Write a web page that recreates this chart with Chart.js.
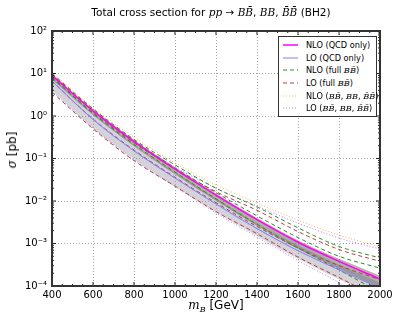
<!DOCTYPE html>
<html>
<head>
<meta charset="utf-8">
<script src="https://cdn.jsdelivr.net/npm/chart.js@4.4.1/dist/chart.umd.min.js"></script>
<style>
  body { margin: 0; background: #fff; }
  #wrap { position: relative; width: 398px; height: 319px; font-family: "DejaVu Sans", sans-serif; color: #000; }
  #chart { position: absolute; left: 0; top: 0; }
  .m { font-family: "DejaVu Serif", serif; font-style: italic; }
  #title { position: absolute; top: 6px; left: 0; width: 422px; text-align: center; font-size: 10.5px; white-space: nowrap; }
  #xlabel { position: absolute; top: 298px; left: 0; width: 432px; text-align: center; font-size: 12px; }
  #ylabel { position: absolute; left: 12px; top: 150px; font-size: 12px; transform: translate(-50%, -50%) rotate(-90deg); white-space: nowrap; }
  #legend { position: absolute; left: 278px; top: 36px; width: 99px; height: 81px; box-sizing: border-box;
            border: 1.5px solid #333; background: #fff; padding-top: 2px; overflow: visible; }
  .row { height: 12.6px; display: flex; align-items: center; font-size: 8.2px; white-space: nowrap; }
  .row svg { margin-left: 4px; margin-right: 8px; flex-shrink: 0; }
  .row span.t { flex-shrink: 0; }
</style>
</head>
<body>
<div id="wrap">
  <canvas id="chart" width="398" height="319"></canvas>
  <div id="title">Total cross section for <span class="m">pp</span> → <span class="m">BB&#772;</span>, <span class="m">BB</span>, <span class="m">B&#772;B&#772;</span> (BH2)</div>
  <div id="xlabel"><span class="m">m<sub style="font-size:8px">B</sub></span> [GeV]</div>
  <div id="ylabel"><span class="m">σ</span> [pb]</div>
  <div id="legend"></div>
</div>
<script>
// masses (GeV) and cross sections (pb)
const mass = [400, 600, 800, 1000, 1200, 1400, 1600, 1800, 2000];

const nloQcd = [8.91, 1.32, 0.251, 0.0562, 0.0138, 0.00363, 0.00107, 0.00038, 0.000145];
const loQcd = [6.61, 0.832, 0.151, 0.0347, 0.00851, 0.00224, 0.000676, 0.00024, 0.0000891];

const nloBandHi = [9.77, 1.45, 0.275, 0.0617, 0.0151, 0.00398, 0.0012, 0.000437, 0.000174];
const nloBandLo = [7.24, 1.05, 0.195, 0.0427, 0.0102, 0.00263, 0.000741, 0.000251, 0.0000891];
const loBandHi = [8.32, 1.15, 0.209, 0.0479, 0.0117, 0.00302, 0.000912, 0.000316, 0.00012];
const loBandLo = [3.98, 0.525, 0.0955, 0.0219, 0.0055, 0.00151, 0.000437, 0.000145, 0.0000501];

const nloFullUp = [10, 1.48, 0.282, 0.0708, 0.02, 0.00724, 0.00234, 0.000851, 0.000457];
const nloFullMid = [9.55, 1.38, 0.263, 0.0603, 0.0158, 0.00447, 0.00138, 0.000501, 0.000263];
const nloFullLo = [7.94, 1.15, 0.214, 0.0479, 0.0112, 0.00282, 0.000794, 0.00024, 0.0000708];

const loFullUp = [8.32, 1.2, 0.234, 0.0575, 0.0166, 0.00603, 0.00191, 0.000724, 0.00038];
const loFullMid = [6.61, 0.851, 0.158, 0.0363, 0.00912, 0.00251, 0.000794, 0.000302, 0.000141];
const loFullLo = [3.63, 0.501, 0.0891, 0.0224, 0.00562, 0.0017, 0.000479, 0.000158, 0.0000501];

const nloAllUp = [10.5, 1.58, 0.316, 0.0794, 0.024, 0.00891, 0.00355, 0.00158, 0.000832];
const nloAllMid = [9.33, 1.38, 0.263, 0.0589, 0.0145, 0.0038, 0.00112, 0.000398, 0.000158];
const nloAllLo = [8.32, 1.2, 0.224, 0.0501, 0.0117, 0.00295, 0.000794, 0.00024, 0.0000631];

const loAllUp = [7.94, 1.17, 0.24, 0.0631, 0.02, 0.00759, 0.00302, 0.00135, 0.000741];
const loAllMid = [6.61, 0.832, 0.151, 0.0347, 0.00851, 0.00224, 0.000676, 0.00024, 0.0000891];
const loAllLo = [3.8, 0.525, 0.0933, 0.0219, 0.00525, 0.00141, 0.000398, 0.00012, 0.0000316];

const xTicks = [400, 600, 800, 1000, 1200, 1400, 1600, 1800, 2000];
const yExponents = [-4, -3, -2, -1, 0, 1, 2];

const C_NLO = "#ff00ff", C_LO = "#8080ff", C_GREEN = "#2e8b2e", C_RED = "#b84040",
      C_ORANGE = "#ffb347", C_PURPLE = "#b27dff";

const pts = arr => mass.map((m, i) => ({ x: m, y: arr[i] }));
const line = (arr, color, width, dash, order) => ({
    data: pts(arr), borderColor: color, borderWidth: width, borderDash: dash,
    pointRadius: 0, fill: false, cubicInterpolationMode: "monotone", order
});
const band = (arr, color, fillTo, order) => ({
    data: pts(arr), borderWidth: 0, borderColor: "transparent", backgroundColor: color,
    pointRadius: 0, fill: fillTo, cubicInterpolationMode: "monotone", order
});

const datasets = [
    band(loBandHi, "rgba(150,150,165,0.42)", "+1", 20),
    band(loBandLo, "transparent", false, 20),
    band(nloBandHi, "rgba(95,95,95,0.5)", "+1", 19),
    band(nloBandLo, "transparent", false, 19),
    line(nloAllUp, C_ORANGE, 1, [1, 2], 5),
    line(nloAllMid, C_ORANGE, 1, [1, 2], 5),
    line(nloAllLo, C_ORANGE, 1, [1, 2], 5),
    line(loAllUp, C_PURPLE, 1, [1, 2], 5),
    line(loAllMid, C_PURPLE, 1, [1, 2], 5),
    line(loAllLo, C_PURPLE, 1, [1, 2], 5),
    line(nloFullUp, C_GREEN, 1, [4, 3], 4),
    line(nloFullMid, C_GREEN, 1, [4, 3], 4),
    line(nloFullLo, C_GREEN, 1, [4, 3], 4),
    line(loFullUp, C_RED, 1, [4, 3], 4),
    line(loFullMid, C_RED, 1, [4, 3], 4),
    line(loFullLo, C_RED, 1, [4, 3], 4),
    line(loQcd, C_LO, 1, [], 1),
    line(nloQcd, C_NLO, 1.5, [], 0)
];

const sup = { "-": "⁻", "0": "⁰", "1": "¹", "2": "²", "3": "³", "4": "⁴" };

// frame and inward ticks like matplotlib
const framePlugin = {
    id: "frame",
    afterDraw(chart) {
        const { ctx, chartArea: a, scales: { x, y } } = chart;
        ctx.save();
        ctx.strokeStyle = "#222";
        ctx.lineWidth = 1;
        ctx.beginPath();
        for (let m = 400; m <= 2000; m += 50) {
            const px = x.getPixelForValue(m);
            const len = m % 200 === 0 ? 4 : 2;
            ctx.moveTo(px, a.bottom); ctx.lineTo(px, a.bottom - len);
            ctx.moveTo(px, a.top); ctx.lineTo(px, a.top + len);
        }
        for (let e = -4; e <= 2; e++) {
            for (let j = 1; j <= 9; j++) {
                const v = j * Math.pow(10, e);
                if (v > 100) break;
                const py = y.getPixelForValue(v);
                const len = j === 1 ? 4 : 2;
                ctx.moveTo(a.left, py); ctx.lineTo(a.left + len, py);
                ctx.moveTo(a.right, py); ctx.lineTo(a.right - len, py);
            }
        }
        ctx.stroke();
        ctx.strokeStyle = "#333";
        ctx.lineWidth = 2;
        ctx.strokeRect(a.left, a.top, a.right - a.left, a.bottom - a.top);
        ctx.restore();
    }
};

new Chart(document.getElementById("chart"), {
    type: "line",
    data: { datasets },
    options: {
        responsive: false,
        animation: false,
        layout: { padding: { left: 0, top: 31, right: 18, bottom: 0 } },
        plugins: { legend: { display: false }, tooltip: { enabled: false } },
        scales: {
            x: {
                type: "linear", min: 400, max: 2000,
                afterBuildTicks: s => { s.ticks = xTicks.map(v => ({ value: v })); },
                afterFit: s => { s.height = 33; },
                ticks: { color: "#000", font: { family: "DejaVu Sans", size: 10 }, padding: 3, maxRotation: 0,
                         callback: v => String(v) },
                grid: { color: "rgba(0,0,0,0.45)", lineWidth: 0.8, drawTicks: false },
                border: { display: false, dash: [1, 2] }
            },
            y: {
                type: "logarithmic", min: 1e-4, max: 100,
                afterBuildTicks: s => { s.ticks = yExponents.map(e => ({ value: Math.pow(10, e) })); },
                afterFit: s => { s.width = 52; },
                ticks: {
                    color: "#000", font: { family: "DejaVu Sans", size: 10 }, padding: 5,
                    callback: v => "10" + String(Math.round(Math.log10(v))).split("").map(c => sup[c]).join("")
                },
                grid: { color: "rgba(0,0,0,0.45)", lineWidth: 0.8, drawTicks: false },
                border: { display: false, dash: [1, 2] }
            }
        }
    },
    plugins: [framePlugin]
});

// legend
const legendItems = [
    { label: "NLO (QCD only)", color: C_NLO, dash: "", w: 1.5 },
    { label: "LO (QCD only)", color: C_LO, dash: "", w: 1 },
    { label: 'NLO (full <span class="m">BB&#772;</span>)', color: C_GREEN, dash: "4,3", w: 1 },
    { label: 'LO (full <span class="m">BB&#772;</span>)', color: C_RED, dash: "4,3", w: 1 },
    { label: 'NLO (<span class="m">BB&#772;</span>, <span class="m">BB</span>, <span class="m">B&#772;B&#772;</span>)', color: C_ORANGE, dash: "1,2", w: 1 },
    { label: 'LO (<span class="m">BB&#772;</span>, <span class="m">BB</span>, <span class="m">B&#772;B&#772;</span>)', color: C_PURPLE, dash: "1,2", w: 1 }
];
document.getElementById("legend").innerHTML = legendItems.map(it =>
    `<div class="row"><svg width="15" height="6"><line x1="0" y1="3" x2="15" y2="3" stroke="${it.color}" stroke-width="${it.w}" stroke-dasharray="${it.dash}"/></svg><span class="t">${it.label}</span></div>`
).join("");
</script>
</body>
</html>
